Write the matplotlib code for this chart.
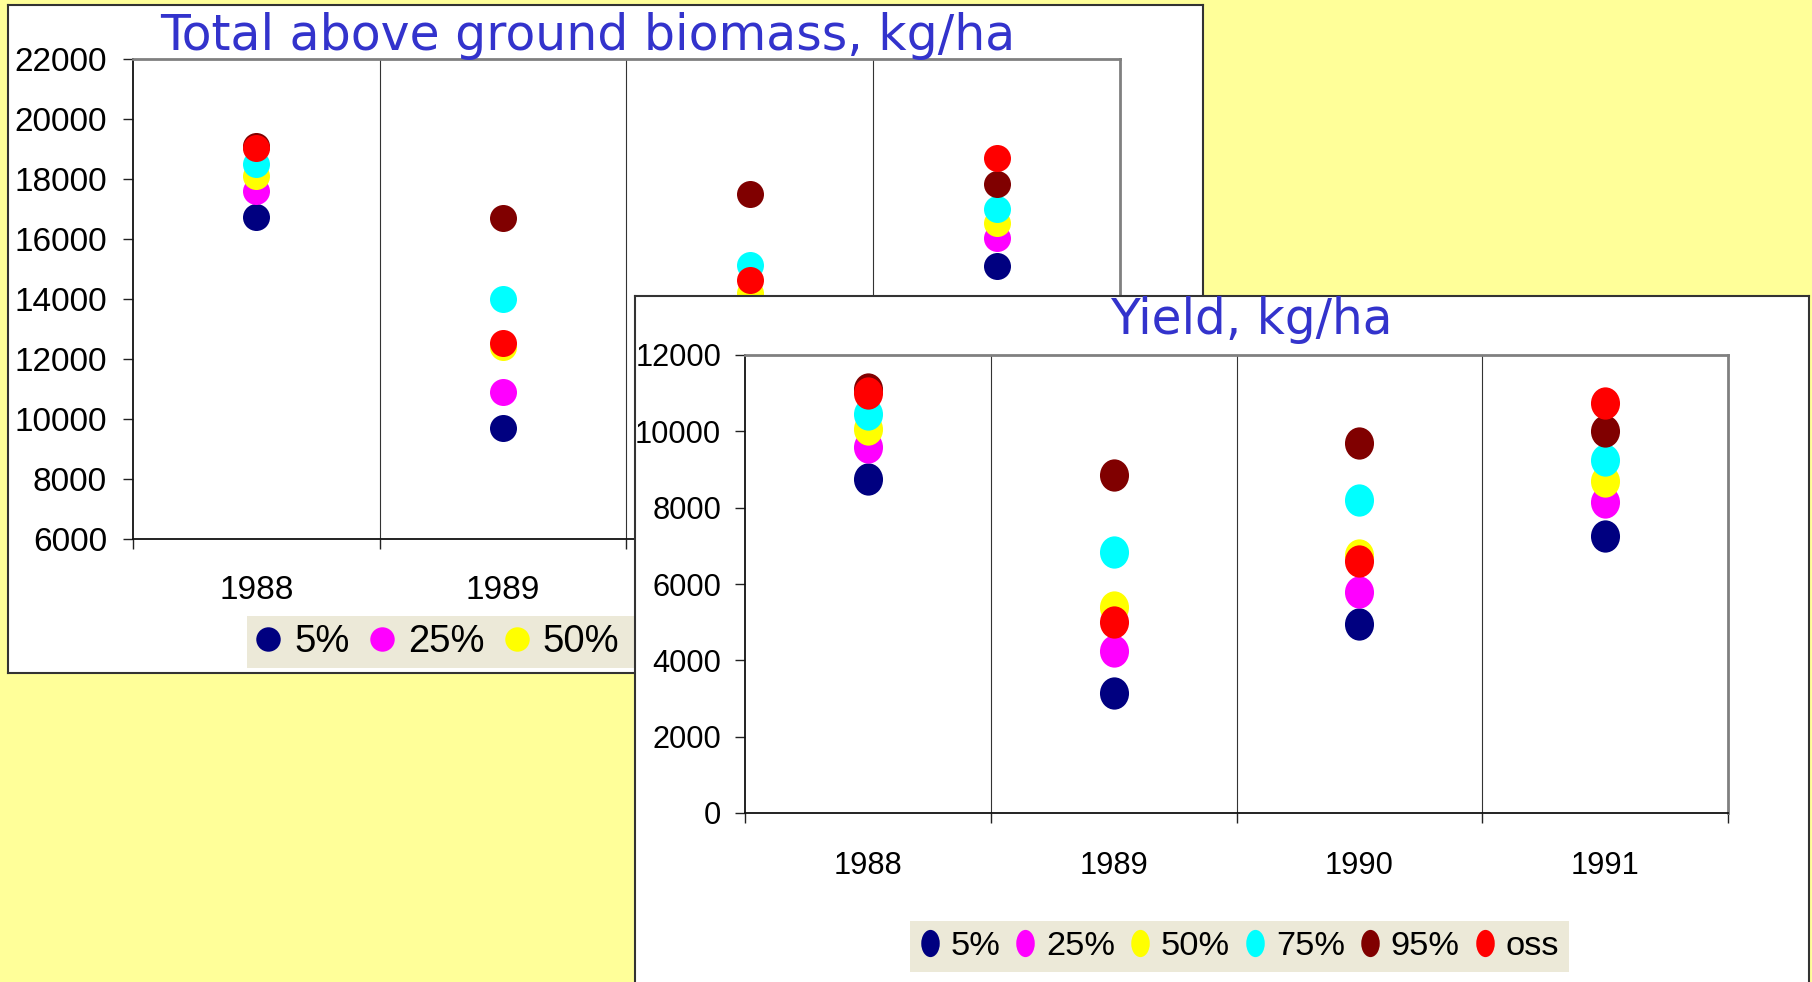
import numpy as np
import matplotlib
matplotlib.use("Agg")
import matplotlib.pyplot as plt
from matplotlib import font_manager
from matplotlib.lines import Line2D
from matplotlib.markers import MarkerStyle
from matplotlib.path import Path
from matplotlib.transforms import Affine2D

# data
years = ["1988", "1989", "1990", "1991"]
labels = ["5%", "25%", "50%", "75%", "95%", "oss"]
colors = ["#000080", "#FF00FF", "#FFFF00", "#00FFFF", "#800000", "#FF0000"]

biomass_p5 = [16750, 9700, 11200, 15100]
biomass_p25 = [17600, 10900, 12800, 16050]
biomass_p50 = [18100, 12400, 14200, 16550]
biomass_p75 = [18500, 14000, 15150, 17000]
biomass_p95 = [19100, 16700, 17500, 17850]
biomass_oss = [19050, 12550, 14650, 18700]

yield_p5 = [8750, 3150, 4950, 7250]
yield_p25 = [9600, 4250, 5800, 8150]
yield_p50 = [10050, 5400, 6750, 8700]
yield_p75 = [10450, 6850, 8200, 9250]
yield_p95 = [11100, 8850, 9700, 10000]
yield_oss = [11000, 5000, 6600, 10750]

biomass = [biomass_p5, biomass_p25, biomass_p50, biomass_p75, biomass_p95, biomass_oss]
yields = [yield_p5, yield_p25, yield_p50, yield_p75, yield_p95, yield_oss]

W, H = 1812, 982
BG = "#FFFF99"
LEGEND_BG = "#ECE9D8"
TITLE_COLOR = "#3333CC"


def pick_font(names):
    for name in names:
        try:
            font_manager.findfont(name, fallback_to_default=False)
            return name
        except ValueError:
            continue
    return None


ARIAL = pick_font(["Liberation Sans", "Arial"]) or "DejaVu Sans"
NARROW = pick_font(["Liberation Sans Narrow", "Arial Narrow"])
narrow_scale = 1.0
if NARROW is None:
    # no condensed face installed: use the normal one a bit smaller
    NARROW = ARIAL
    narrow_scale = 0.87


def box(x0, y0, x1, y1):
    # pixel box (top-left origin) -> figure fraction rect
    return [x0 / W, 1 - y1 / H, (x1 - x0) / W, (y1 - y0) / H]


def ellipse_marker(aspect):
    path = Path.unit_circle().transformed(Affine2D().scale(aspect, 1.0))
    return MarkerStyle(path)


def panel_bg(rect, z):
    bg = fig.add_axes(rect, zorder=z)
    bg.set_facecolor("white")
    bg.set_xticks([])
    bg.set_yticks([])
    for sp in bg.spines.values():
        sp.set_color("#333333")
        sp.set_linewidth(1.5)
    return bg


def style_axes(ax, ymin, ymax, ystep, tick_font, tick_size, ypad, xpad):
    ax.set_facecolor("white")
    ax.set_xlim(-0.5, len(years) - 0.5)
    ax.set_ylim(ymin, ymax)
    ax.set_yticks(np.arange(ymin, ymax + 1, ystep))
    ax.set_xticks(np.arange(-0.5, len(years), 1.0))
    ax.set_xticklabels([])
    ax.set_xticks(np.arange(len(years)), minor=True)
    ax.set_xticklabels(years, minor=True)
    ax.tick_params(axis="x", which="major", direction="out", length=7.2, width=1, color="#222222")
    ax.tick_params(axis="x", which="minor", length=0, pad=xpad)
    ax.tick_params(axis="y", direction="out", length=7.2, width=1, color="#222222", pad=ypad)
    for lab in ax.get_xticklabels(minor=True) + ax.get_yticklabels():
        lab.set_fontfamily(tick_font)
        lab.set_fontsize(tick_size)
    for x in np.arange(0.5, len(years) - 1, 1.0):
        ax.axvline(x, color="#333333", linewidth=0.8, zorder=1)
    ax.spines["left"].set_color("#111111")
    ax.spines["bottom"].set_color("#111111")
    ax.spines["left"].set_linewidth(1.3)
    ax.spines["bottom"].set_linewidth(1.3)
    ax.spines["top"].set_color("#808080")
    ax.spines["right"].set_color("#808080")
    ax.spines["top"].set_linewidth(2)
    ax.spines["right"].set_linewidth(2)


fig = plt.figure(figsize=(W / 100, H / 100), dpi=100, facecolor=BG)
x_pos = np.arange(len(years))

# back panel: total biomass
panel_bg(box(8, 5, 1203, 673), 1)
ax1 = fig.add_axes(box(133, 59, 1120, 539), zorder=2)
style_axes(ax1, 6000, 22000, 2000, ARIAL, 24, 11.5, 26)
for vals, col in zip(biomass, colors):
    ax1.scatter(x_pos, vals, s=378, color=col, linewidths=0, zorder=3, clip_on=False)
ax1.text(588 / W, 1 - 50 / H, "Total above ground biomass, kg/ha", transform=fig.transFigure,
         ha="center", va="baseline", fontsize=35.2, color=TITLE_COLOR, family="DejaVu Sans")
handles1 = [Line2D([], [], ls="", marker="o", markersize=17.6, color=c, markeredgewidth=0)
            for c in colors]
leg1 = ax1.legend(handles1, labels, ncol=6, loc="center",
                  bbox_to_anchor=(631 / W, 1 - 642 / H), bbox_transform=fig.transFigure,
                  prop={"family": ARIAL, "size": 27.5}, frameon=True, fancybox=False,
                  facecolor=LEGEND_BG, edgecolor="none", framealpha=1,
                  handlelength=0.7, handletextpad=0.33, columnspacing=0.5,
                  borderpad=0.2, borderaxespad=0)

# front panel: yield
panel_bg(box(635, 296, 1809, 1000), 3)
ax2 = fig.add_axes(box(745, 355, 1728, 813), zorder=4)
style_axes(ax2, 0, 12000, 2000, NARROW, 25.5 * narrow_scale, 10, 27)
point_marker = ellipse_marker(0.9)
for vals, col in zip(yields, colors):
    ax2.scatter(x_pos, vals, s=540, marker=point_marker, color=col, linewidths=0,
                zorder=3, clip_on=False)
ax2.text(1251 / W, 1 - 334 / H, "Yield, kg/ha", transform=fig.transFigure,
         ha="center", va="baseline", fontsize=35, color=TITLE_COLOR, family="DejaVu Sans")
legend_marker = ellipse_marker(0.68)
handles2 = [Line2D([], [], ls="", marker=legend_marker, markersize=19.6, color=c,
                   markeredgewidth=0) for c in colors]
leg2 = ax2.legend(handles2, labels, ncol=6, loc="center",
                  bbox_to_anchor=(1239.5 / W, 1 - 946.5 / H), bbox_transform=fig.transFigure,
                  prop={"family": NARROW, "size": 28.5 * narrow_scale}, frameon=True,
                  fancybox=False, facecolor=LEGEND_BG, edgecolor="none", framealpha=1,
                  handlelength=0.55, handletextpad=0.33, columnspacing=0.45,
                  borderpad=0.3, borderaxespad=0)

fig.savefig("out.png", dpi=100, facecolor=BG)
